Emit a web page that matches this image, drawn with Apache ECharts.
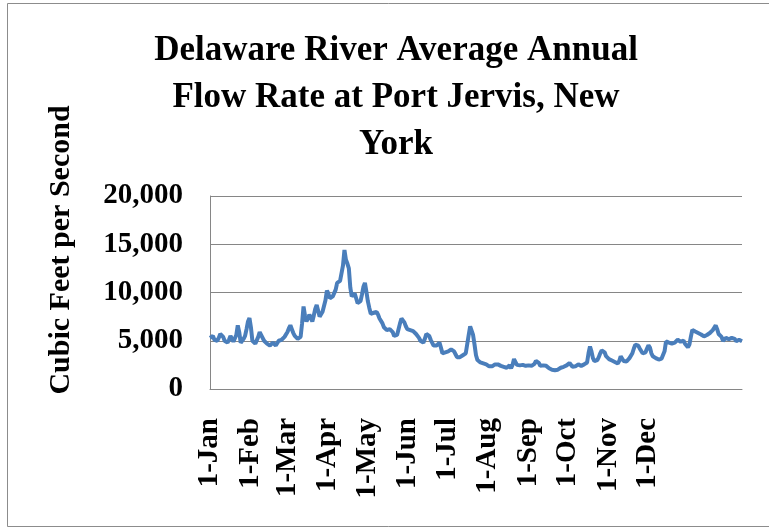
<!DOCTYPE html>
<html>
<head>
<meta charset="utf-8">
<script src="https://cdn.jsdelivr.net/npm/echarts@6/dist/echarts.min.js"></script>
<style>
html, body { margin: 0; padding: 0; background: #fff; }
#chart { width: 769px; height: 529px; }
</style>
</head>
<body>
<div id="chart"></div>
<script>
// daily mean flow, cubic feet per second
const jan = [5300, 5400, 5500, 5100, 4900, 5000, 5300, 5700, 5900, 5400, 5000, 4900, 4800, 5100, 5500, 5300, 4900, 4700, 5600, 6600, 5900, 4800, 4900, 5200, 5500, 6200, 7000, 7350, 6400, 5000, 4800];
const feb = [4700, 4900, 5400, 5900, 5700, 5300, 5000, 4800, 4700, 4600, 4500, 4600, 4800, 4700, 4500, 4700, 5000, 5000, 5100, 5300, 5400, 5600, 5900, 6300, 6600, 6200, 5800, 5500];
const mar = [5300, 5200, 5100, 5400, 6800, 8550, 7600, 7000, 7300, 7700, 7400, 7000, 7600, 8300, 8700, 8100, 7500, 7700, 8000, 8200, 9200, 10200, 9900, 9400, 9500, 9600, 9700, 10300, 11000, 11100, 11200];
const apr = [11300, 12800, 14400, 13400, 13000, 12500, 10500, 9600, 9800, 9900, 9400, 8900, 9000, 9100, 9800, 10600, 11000, 10100, 9100, 8400, 7800, 7700, 7900, 8000, 8000, 7700, 7300, 7100, 6800, 6400];
const may = [6200, 6100, 6100, 6200, 6200, 5900, 5500, 5300, 5600, 6200, 6800, 7300, 7350, 6900, 6500, 6200, 6200, 6100, 6000, 6000, 5900, 5700, 5500, 5300, 5000, 4800, 4800, 5200, 5700, 5900, 5500];
const jun = [5100, 4900, 4500, 4300, 4500, 4700, 4800, 4300, 3700, 3700, 3800, 3900, 3900, 4000, 4100, 4200, 3900, 3600, 3300, 3200, 3300, 3400, 3500, 3600, 3700, 3800, 5600, 6500, 6300, 5600];
const jul = [4600, 3500, 3000, 2850, 2750, 2700, 2650, 2600, 2550, 2450, 2350, 2300, 2350, 2450, 2550, 2600, 2550, 2450, 2400, 2350, 2300, 2200, 2200, 2400, 2450, 2150, 2500, 3100, 2900, 2500, 2400];
const aug = [2450, 2500, 2500, 2450, 2400, 2400, 2450, 2400, 2400, 2450, 2600, 2900, 3050, 2700, 2400, 2400, 2450, 2400, 2400, 2300, 2150, 2050, 2000, 1950, 1950, 1950, 2000, 2100, 2200, 2250, 2300];
const sep = [2400, 2450, 2600, 2700, 2500, 2300, 2200, 2350, 2550, 2550, 2450, 2400, 2450, 2550, 2700, 2750, 3700, 4400, 3900, 3200, 2900, 2850, 3000, 3300, 3700, 4000, 4080, 3800, 3400, 3200];
const oct = [3100, 3000, 2950, 2900, 2800, 2700, 2650, 2900, 3380, 3200, 2900, 2700, 2850, 3000, 3200, 3300, 3700, 4200, 4600, 4770, 4500, 4200, 4000, 3700, 3560, 3800, 4200, 4530, 4300, 3700, 3390];
const nov = [3300, 3200, 3100, 3050, 3100, 3150, 3200, 3900, 4930, 4900, 4800, 4750, 4700, 4650, 4800, 5000, 5100, 5000, 4900, 4900, 5000, 4700, 4500, 4320, 4600, 5400, 6130, 6000, 5950, 5900];
const dec = [5800, 5700, 5650, 5550, 5450, 5500, 5600, 5700, 5800, 5950, 6100, 6350, 6590, 6200, 5700, 5690, 5400, 5000, 4930, 5300, 5100, 5150, 5250, 5300, 5350, 5200, 4950, 5050, 5100, 5000, 4950];

const monthNames = ['Jan', 'Feb', 'Mar', 'Apr', 'May', 'Jun', 'Jul', 'Aug', 'Sep', 'Oct', 'Nov', 'Dec'];
const monthStartDays = [0, 31, 59, 90, 120, 151, 181, 212, 243, 273, 304, 334];
const yTicks = [0, 5000, 10000, 15000, 20000];

const flow = [].concat(jan, feb, mar, apr, may, jun, jul, aug, sep, oct, nov, dec);
const months = [jan, feb, mar, apr, may, jun, jul, aug, sep, oct, nov, dec];
const days = [];
months.forEach((m, mi) => {
    m.forEach((v, di) => days.push((di + 1) + '-' + monthNames[mi]));
});

const serif = '"Liberation Serif", "Times New Roman", serif';

const myChart = echarts.init(document.getElementById('chart'));

let option = {
    backgroundColor: '#fff',
    animation: false,
    title: {
        text: 'Delaware River Average Annual\nFlow Rate at Port Jervis, New\nYork',
        left: 391,
        top: 22,
        textAlign: 'center',
        textStyle: {
            fontFamily: serif,
            fontWeight: 'bold',
            fontSize: 35,
            lineHeight: 47,
            color: '#000'
        }
    },
    grid: {
        left: 210,
        right: 27,
        top: 196,
        bottom: 140
    },
    xAxis: [
        {
            type: 'category',
            data: days,
            boundaryGap: false,
            axisLine: {
                lineStyle: { color: '#868686', width: 1 }
            },
            axisTick: { show: false },
            axisLabel: { show: false },
            splitLine: { show: false }
        },
        {
            // month labels only
            type: 'value',
            position: 'bottom',
            min: 0,
            max: 406,
            axisLine: { show: false },
            axisTick: { show: false },
            splitLine: { show: false },
            axisLabel: {
                customValues: monthStartDays,
                rotate: 90,
                margin: 29,
                fontFamily: serif,
                fontWeight: 'bold',
                fontSize: 29,
                color: '#000',
                formatter: (v) => {
                    const idx = monthStartDays.indexOf(v);
                    return idx >= 0 ? '1-' + monthNames[idx] : '';
                }
            }
        }
    ],
    yAxis: {
        type: 'value',
        min: yTicks[0],
        max: yTicks[yTicks.length - 1],
        interval: 5000,
        axisLine: {
            show: true,
            lineStyle: { color: '#868686', width: 1 }
        },
        axisTick: { show: false },
        splitLine: {
            show: true,
            lineStyle: { color: '#868686', width: 1 }
        },
        axisLabel: {
            margin: 27,
            fontFamily: serif,
            fontWeight: 'bold',
            fontSize: 29,
            color: '#000',
            formatter: (v) => v.toLocaleString('en-US')
        }
    },
    graphic: [
        {
            type: 'rect',
            shape: { x: 7.5, y: 3.5, width: 775, height: 523 },
            style: { fill: 'none', stroke: '#8c8c8c', lineWidth: 1 },
            silent: true
        },
        {
            type: 'text',
            x: 61,
            y: 250,
            rotation: Math.PI / 2,
            style: {
                text: 'Cubic Feet per Second',
                fontFamily: serif,
                fontWeight: 'bold',
                fontSize: 30,
                fill: '#000',
                textAlign: 'center',
                textVerticalAlign: 'middle'
            }
        }
    ],
    series: [
        {
            name: 'Flow',
            type: 'line',
            xAxisIndex: 0,
            data: flow,
            showSymbol: false,
            symbol: 'none',
            lineStyle: { color: '#4A7EBB', width: 4 },
            z: 3
        }
    ]
};

myChart.setOption(option);
</script>
</body>
</html>
